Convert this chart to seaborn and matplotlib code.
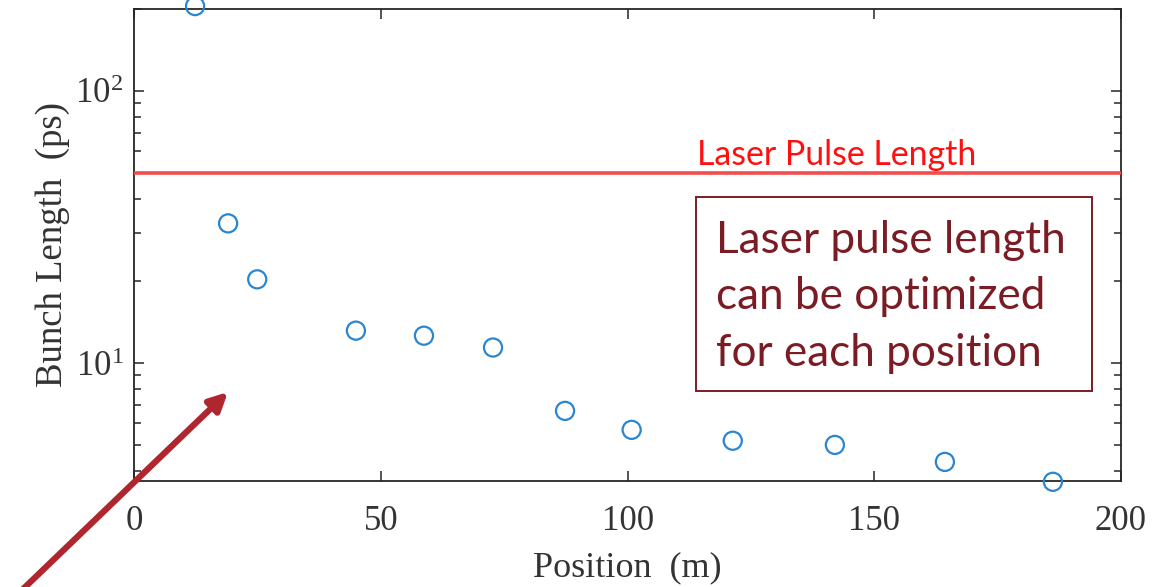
import numpy as np
import matplotlib
matplotlib.use("Agg")
import matplotlib.pyplot as plt
import seaborn as sns
from matplotlib.ticker import LogLocator, FixedLocator, NullFormatter, FuncFormatter

# Data
position_m = [12.3, 19.0, 24.9, 44.9, 58.7, 72.7, 87.3, 100.8, 121.3, 142.0, 164.3, 186.2]
bunch_length_ps = [205, 32.6, 20.3, 13.15, 12.6, 11.4, 6.67, 5.68, 5.18, 5.0, 4.33, 3.66]
laser_pulse_ps = 50
x_ticks = [0, 50, 100, 150, 200]
x_limits = [0, 200]
y_limits = [3.7, 200]

sns.set_theme(style="ticks")
plt.rcParams["font.family"] = ["Liberation Serif", "DejaVu Serif"]
plt.rcParams["mathtext.fontset"] = "custom"
plt.rcParams["mathtext.rm"] = "Liberation Serif"
plt.rcParams["mathtext.it"] = "Liberation Serif:italic"

fig = plt.figure(figsize=(11.62, 5.87), dpi=100)
ax = fig.add_axes([134.4 / 1162, 1 - 480.5 / 587, (1121 - 134.4) / 1162, (480.5 - 9) / 587])

blue = "#2a86d1"
sns.scatterplot(x=position_m, y=bunch_length_ps, ax=ax, marker="o", s=170,
                facecolors="none", edgecolor=blue, linewidth=1.6, clip_on=False, zorder=5)

ax.axhline(laser_pulse_ps, color="#f24c4c", linewidth=2.6, zorder=3)

ax.set_yscale("log")
ax.set_xlim(*x_limits)
ax.set_ylim(*y_limits)
ax.xaxis.set_major_locator(FixedLocator(x_ticks))
ax.yaxis.set_major_locator(LogLocator(base=10))
ax.yaxis.set_minor_locator(LogLocator(base=10, subs=np.arange(2, 10)))
ax.yaxis.set_minor_formatter(NullFormatter())
ax.yaxis.set_major_formatter(FuncFormatter(lambda v, p: r"$10^{%d}$" % int(round(np.log10(v)))))

spine_col = "#262626"
for sp in ax.spines.values():
    sp.set_color(spine_col)
    sp.set_linewidth(1.3)
    sp.set_visible(True)
ax.tick_params(which="both", direction="in", top=True, right=True, color=spine_col,
               width=1.1, labelsize=25, labelcolor="#333333")
ax.tick_params(axis="x", pad=18)
ax.tick_params(axis="y", pad=8)
ax.tick_params(which="major", length=7)
ax.tick_params(which="minor", length=5)
ax.tick_params(axis="x", which="minor", top=False, bottom=False)

ax.set_xlabel("Position  (m)", fontsize=26, color="#333333", labelpad=9)
ax.set_ylabel("Bunch Length  (ps)", fontsize=26.5, color="#333333", labelpad=4)
ax.grid(False)

# Annotations
fig.text(697 / 1162, 1 - 155 / 587, "Laser Pulse Length",
         color="#ff1010", fontsize=24.4, family=["Lato", "DejaVu Sans"], va="center", ha="left")

fig.patches.append(plt.Rectangle((696 / 1162, 1 - 391 / 587), (1092 - 696) / 1162, (391 - 197) / 587,
                                 transform=fig.transFigure, fill=True, facecolor="white",
                                 edgecolor="#7b1c24", linewidth=1.4, zorder=6))
fig.text(716 / 1162, 1 - 297 / 587, "Laser pulse length\ncan be optimized\nfor each position",
         color="#7b1c24", fontsize=31.8, family=["Lato", "DejaVu Sans"], va="center", ha="left",
         linespacing=1.48, zorder=7)

ax.annotate("", xy=(228 / 1162, 1 - 392 / 587), xycoords="figure fraction",
            xytext=(20 / 1162, 1 - 592 / 587), textcoords="figure fraction",
            arrowprops=dict(arrowstyle="-|>,head_length=0.9,head_width=0.45", color="#b0262f",
                            linewidth=4.5, shrinkA=0, shrinkB=0), annotation_clip=False)

fig.savefig("out.png", dpi=100)
